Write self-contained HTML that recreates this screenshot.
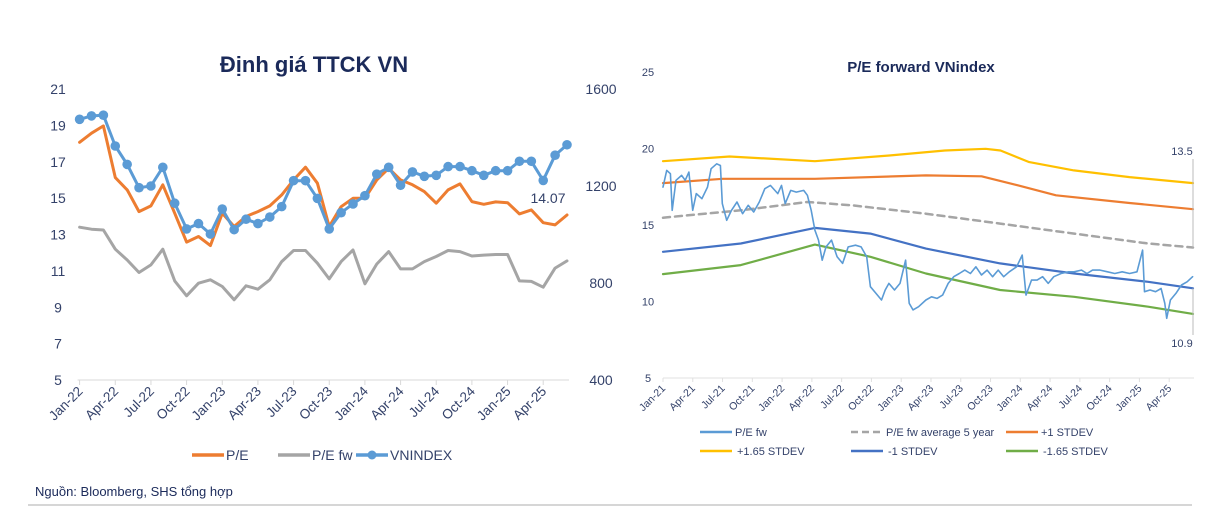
<!DOCTYPE html>
<html><head><meta charset="utf-8">
<style>
html,body{margin:0;padding:0;background:#fff;}
svg{display:block;font-family:"Liberation Sans","DejaVu Sans",sans-serif;}
</style></head>
<body>
<svg id="root" width="1221" height="509" viewBox="0 0 1221 509" xmlns="http://www.w3.org/2000/svg">
<g id="left">
  <text x="314" y="72" text-anchor="middle" font-size="22" font-weight="bold" fill="#1b2a5a">Định giá TTCK VN</text>
</g>
<g id="right">
  <text x="921" y="72" text-anchor="middle" font-size="15" font-weight="bold" fill="#1b2a5a">P/E forward VNindex</text>
</g>
<text x="35" y="496" font-size="13" fill="#1b2a5a">Nguồn: Bloomberg, SHS tổng hợp</text>
<line x1="28" y1="505" x2="1192" y2="505" stroke="#c8c8c8" stroke-width="1.5"/>
</svg>
<script>
// ---------- LEFT CHART DATA ----------
const leftMonths = ["Jan-22","Feb-22","Mar-22","Apr-22","May-22","Jun-22","Jul-22","Aug-22","Sep-22","Oct-22","Nov-22","Dec-22","Jan-23","Feb-23","Mar-23","Apr-23","May-23","Jun-23","Jul-23","Aug-23","Sep-23","Oct-23","Nov-23","Dec-23","Jan-24","Feb-24","Mar-24","Apr-24","May-24","Jun-24","Jul-24","Aug-24","Sep-24","Oct-24","Nov-24","Dec-24","Jan-25","Feb-25","Mar-25","Apr-25","May-25","Jun-25"];
const peValues = [18.07,18.57,18.97,16.13,15.45,14.26,14.57,15.73,14.17,12.58,12.89,12.39,14.17,13.44,13.99,14.26,14.57,15.18,16.0,16.7,15.82,13.44,14.53,14.99,14.99,16.0,16.64,16.0,15.73,15.36,14.72,15.45,15.78,14.81,14.66,14.79,14.75,14.13,14.35,13.65,13.53,14.07];
const pefwValues = [13.4,13.29,13.25,12.19,11.6,10.91,11.33,12.19,10.45,9.63,10.32,10.51,10.14,9.41,10.18,9.99,10.51,11.51,12.12,12.12,11.42,10.56,11.51,12.15,10.29,11.38,12.06,11.11,11.11,11.51,11.79,12.12,12.06,11.82,11.87,11.9,11.9,10.45,10.42,10.1,11.15,11.55];
const vnindexValues = [1475,1489,1492,1365,1289,1193,1200,1277,1129,1023,1045,1002,1105,1020,1063,1045,1072,1115,1222,1222,1149,1023,1090,1126,1160,1249,1277,1203,1258,1240,1244,1280,1280,1263,1244,1263,1263,1302,1302,1223,1327,1370];
const leftTicksL = [5,7,9,11,13,15,17,19,21];
const leftTicksR = [400,800,1200,1600];

// ---------- RIGHT CHART DATA (t = months since Jan-21) ----------
const rightTickLabels = ["Jan-21","Apr-21","Jul-21","Oct-21","Jan-22","Apr-22","Jul-22","Oct-22","Jan-23","Apr-23","Jul-23","Oct-23","Jan-24","Apr-24","Jul-24","Oct-24","Jan-25","Apr-25"];
const rightYTicks = [5,10,15,20,25];
const pefwT = [0,.37,.75,.93,1.31,1.87,2.24,2.61,2.99,3.36,3.92,4.48,4.85,5.41,5.78,5.97,6.42,6.9,7.46,8.02,8.58,9.14,9.7,10.26,10.82,11.57,11.94,12.31,12.87,13.43,14.18,14.55,14.93,15.3,15.67,16.04,16.42,16.98,17.54,18.1,18.66,19.4,19.96,20.52,20.9,21.46,22.01,22.39,22.76,23.32,23.88,24.44,24.81,25.19,25.75,26.49,27.05,27.61,28.17,28.73,29.29,29.85,30.41,30.97,31.53,32.09,32.65,33.21,33.77,34.33,34.89,35.63,36.19,36.57,37.13,37.69,38.25,38.81,39.37,40.11,40.86,41.42,42.16,42.72,43.28,44.03,44.78,45.52,46.27,47.01,47.76,48.32,48.51,49.07,49.63,50.19,50.56,50.75,51.12,51.68,52.24,52.8,53.36];
const pefwSeries = [17.48,18.57,18.35,15.96,17.92,18.24,17.92,18.46,15.96,17.05,16.72,17.48,18.68,19.0,18.89,16.4,15.31,15.96,16.5,15.74,16.29,15.85,16.5,17.37,17.59,17.05,17.59,16.4,17.26,17.15,17.26,16.94,15.96,14.66,14.01,12.7,13.57,14.01,12.92,12.49,13.57,13.68,13.57,12.92,10.97,10.53,10.1,10.75,11.18,10.75,11.18,12.7,9.88,9.45,9.66,10.1,10.31,10.2,10.42,11.18,11.62,11.83,12.05,11.83,12.27,11.73,12.05,11.62,12.05,11.62,11.94,12.27,13.03,10.42,11.4,11.4,11.62,11.18,11.62,11.83,11.94,11.94,12.05,11.83,12.05,12.05,11.94,11.83,11.94,11.83,11.94,13.36,10.64,10.75,10.64,10.85,9.88,8.9,10.1,10.53,11.08,11.29,11.62];
const bandT = [0,6.7,15.3,22.8,28.4,32.5,34,36.9,41.4,47,53.4];
const plus165 = [19.17,19.48,19.17,19.54,19.87,19.98,19.87,19.11,18.57,18.13,17.74];
const orT = [0,6,15.3,26.5,32.1,35.8,39.6,47,53.4];
const plus1 = [17.74,18.02,18.02,18.24,18.18,17.59,16.94,16.44,16.03];
const avT = [0,7.84,14.55,19.03,26.49,33.96,41.42,48.88,53.4];
const avg5y = [15.48,15.96,16.5,16.29,15.74,15.09,14.44,13.79,13.53];
const minus1 = [13.25,13.79,14.81,14.44,13.46,12.49,11.83,11.29,10.86];
const minus165 = [11.79,12.38,13.72,12.92,11.83,10.75,10.31,9.66,9.19];
const stT = [0,7.84,15.3,20.9,26.49,33.96,41.42,48.88,53.4];

const NS="http://www.w3.org/2000/svg";
function mk(tag,attrs,parent){const e=document.createElementNS(NS,tag);for(const k in attrs)e.setAttribute(k,attrs[k]);parent.appendChild(e);return e;}
const L=document.getElementById('left'), R=document.getElementById('right');

// ---- left axes ----
const lx = i => 79.6 + i*(567-79.6)/(leftMonths.length-1);
const ly = v => 89 + (21-v)*(291/16);
const ry = v => 89 + (1600-v)*(291/1200);
leftTicksL.forEach(v=>{const t=mk('text',{x:58,y:ly(v)+5,'text-anchor':'middle','font-size':14,fill:'#34426a'},L);t.textContent=v;

});
leftTicksR.forEach(v=>{const t=mk('text',{x:601,y:ry(v)+5,'text-anchor':'middle','font-size':14,fill:'#34426a'},L);t.textContent=v;

});
const lax=mk('line',{x1:lx(0)-2,y1:380,x2:lx(41)+2,y2:380,stroke:'#d9d9d9','stroke-width':1},L);


leftMonths.forEach((m,i)=>{ if(i%3) return;
 const tk=mk('line',{x1:lx(i),y1:380,x2:lx(i),y2:385,stroke:'#d9d9d9'},L);
 
 
 const t=mk('text',{x:lx(i)+4,y:392,'text-anchor':'end','font-size':13.5,fill:'#34426a',transform:`rotate(-45 ${lx(i)+4} 392)`},L);t.textContent=m;
 
 });
function poly(parent,xs,ys,attrs,name){const d=xs.map((x,i)=>`${i?'L':'M'}${x.toFixed(1)},${ys[i].toFixed(1)}`).join(' ');const p=mk('path',Object.assign({d:d,fill:'none','stroke-linejoin':'round','stroke-linecap':'round'},attrs),parent);
 
 return p;}
const idx=leftMonths.map((_,i)=>lx(i));
poly(L,idx,pefwValues.map(ly),{stroke:'#a5a5a5','stroke-width':3},'pe-fw-line');
poly(L,idx,peValues.map(ly),{stroke:'#ed7d31','stroke-width':3},'pe-line');
poly(L,idx,vnindexValues.map(ry),{stroke:'#5b9bd5','stroke-width':3},'vnindex-line');
vnindexValues.forEach((v,i)=>{const c=mk('circle',{cx:lx(i),cy:ry(v),r:4.8,fill:'#5b9bd5'},L);
 
 });
const lbl=mk('text',{x:548,y:203,'text-anchor':'middle','font-size':14,fill:'#34426a'},L);lbl.textContent=peValues[peValues.length-1].toFixed(2);


// left legend
[[192,'#ed7d31','P/E',false],[278,'#a5a5a5','P/E fw',false],[356,'#5b9bd5','VNINDEX',true]].forEach(([x,c,s,dot])=>{
 const g=mk('g',{},L);
 
 
 mk('line',{x1:x,y1:455,x2:x+32,y2:455,stroke:c,'stroke-width':3.5},g);
 if(dot) mk('circle',{cx:x+16,cy:455,r:4.5,fill:c},g);
 const t=mk('text',{x:x+34,y:460,'font-size':14,fill:'#34426a'},g);t.textContent=s;});

// ---- right axes ----
const rx = t => 663 + t*(1194-663)/53.5;
const rY = v => 378 - (v-5)*(306/20);
rightYTicks.forEach(v=>{const t=mk('text',{x:648,y:rY(v)+4,'text-anchor':'middle','font-size':11,fill:'#34426a'},R);t.textContent=v;
 
 });
const rax=mk('line',{x1:663,y1:378,x2:1194,y2:378,stroke:'#e0e0e0'},R);


rightTickLabels.forEach((m,i)=>{const x=rx(i*3);
 const tk=mk('line',{x1:x,y1:378,x2:x,y2:382,stroke:'#e0e0e0'},R);
 
 
 const t=mk('text',{x:x+3,y:389,'text-anchor':'end','font-size':10.5,fill:'#34426a',transform:`rotate(-45 ${x+3} 389)`},R);t.textContent=m;
 
 });
poly(R,bandT.map(rx),plus165.map(rY),{stroke:'#ffc000','stroke-width':2.2},'plus-1-65-stdev-line');
poly(R,orT.map(rx),plus1.map(rY),{stroke:'#ed7d31','stroke-width':2.2},'plus-1-stdev-line');
poly(R,avT.map(rx),avg5y.map(rY),{stroke:'#a5a5a5','stroke-width':2.5,'stroke-dasharray':'7 5'},'pe-fw-average-5y-line');
poly(R,stT.map(rx),minus1.map(rY),{stroke:'#4472c4','stroke-width':2.2},'minus-1-stdev-line');
poly(R,stT.map(rx),minus165.map(rY),{stroke:'#70ad47','stroke-width':2.2},'minus-1-65-stdev-line');
poly(R,pefwT.map(rx),pefwSeries.map(rY),{stroke:'#5b9bd5','stroke-width':1.6},'pe-fw-daily-line');
[[avg5y[avg5y.length-1],155,'avg-last-label'],[minus1[minus1.length-1],347,'minus1-last-label']].forEach(([v,y,n])=>{
 const ln=mk('line',{x1:1193,y1:y<200?y+4:y-12,x2:1193,y2:rY(v),stroke:'#bbb'},R);
 
 
 const t=mk('text',{x:1182,y:y,'text-anchor':'middle','font-size':11,fill:'#34426a'},R);t.textContent=(Math.round(v*10)/10).toFixed(1);
 
 });
// right legend
[[700,432,'#5b9bd5','P/E fw',false],[851,432,'#a5a5a5','P/E fw average 5 year',true],[1006,432,'#ed7d31','+1 STDEV',false],
 [700,451,'#ffc000','+1.65 STDEV',false],[851,451,'#4472c4','-1 STDEV',false],[1006,451,'#70ad47','-1.65 STDEV',false]].forEach(([x,y,c,s,dash])=>{
 const g=mk('g',{},R);
 
 
 const a={x1:x,y1:y,x2:x+32,y2:y,stroke:c,'stroke-width':2.5};if(dash)a['stroke-dasharray']='7 4';
 mk('line',a,g);
 const t=mk('text',{x:x+(s.startsWith('+1.')||s.startsWith('-')?37:35),y:y+4,'font-size':11,fill:'#34426a'},g);t.textContent=s;});
</script>
</body></html>
